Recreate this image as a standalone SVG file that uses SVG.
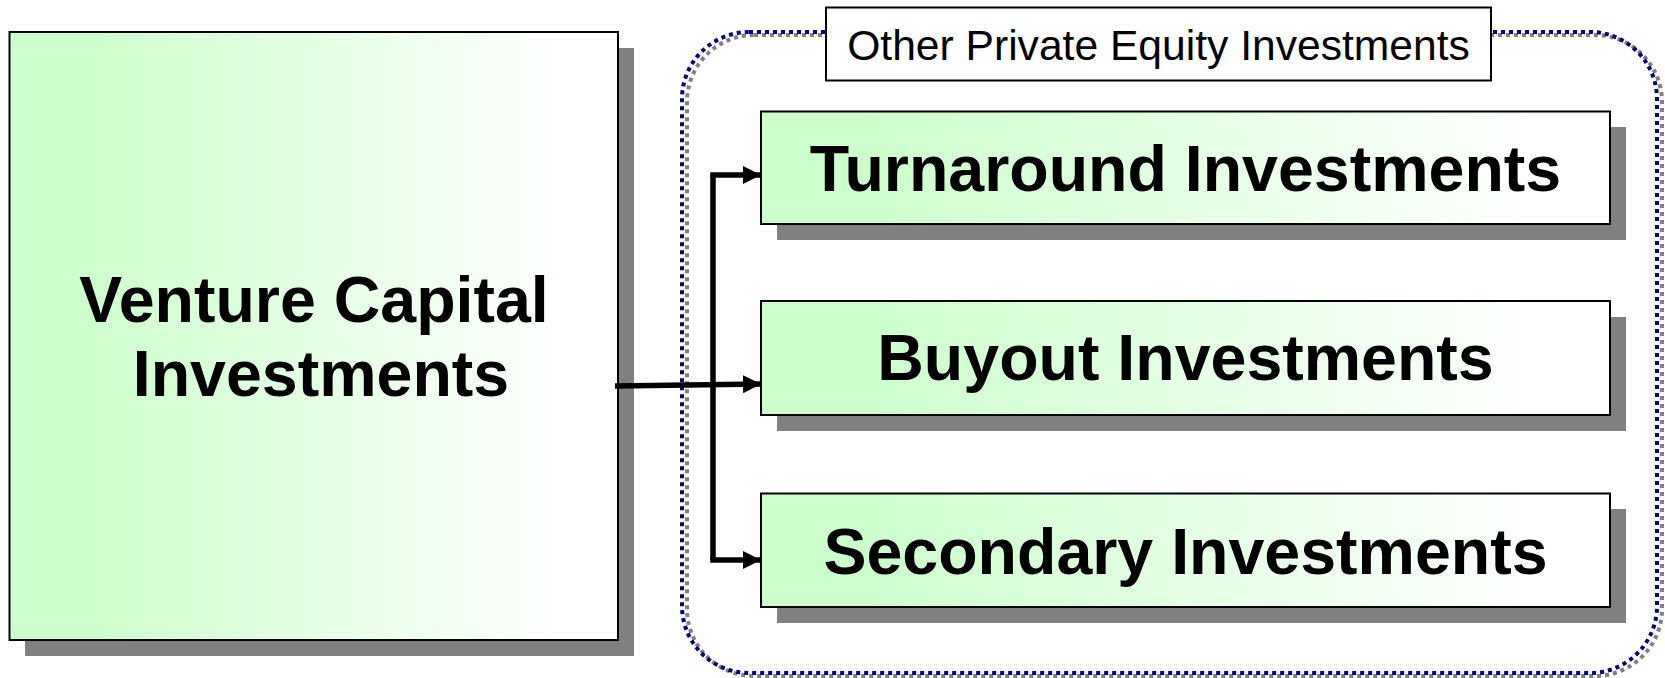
<svg xmlns="http://www.w3.org/2000/svg" width="1665" height="678" viewBox="0 0 1665 678">
<defs>
<linearGradient id="g" x1="0" y1="0" x2="1" y2="0">
<stop offset="0.12" stop-color="#ccffcc"/>
<stop offset="0.92" stop-color="#ffffff"/>
</linearGradient>
<marker id="ah" viewBox="0 0 18 18" refX="18" refY="9" markerWidth="18" markerHeight="18" markerUnits="userSpaceOnUse" orient="auto">
<path d="M0,0 L18,9 L0,18 Z" fill="#000"/>
</marker>
</defs>
<style>
.sh{fill:#808080}
.bx{fill:url(#g);stroke:#000;stroke-width:2}
.big{font-family:"Liberation Sans",Arial,sans-serif;font-weight:bold;font-size:64.5px;fill:#000;text-anchor:middle}
.lbl{font-family:"Liberation Sans",Arial,sans-serif;font-size:42.6px;fill:#000;text-anchor:middle}
.cn{fill:none;stroke:#000;stroke-width:5.5}
</style>
<g id="group-border">
<rect x="687" y="35" width="975" height="641" rx="67" ry="67" fill="none" stroke="#808080" stroke-width="4" stroke-dasharray="4 4"/>
<rect x="682" y="32" width="975" height="641" rx="67" ry="67" fill="none" stroke="#000080" stroke-width="4" stroke-dasharray="4 4"/>
</g>
<g id="node-vc">
<rect class="sh" x="25" y="48" width="609" height="608"/>
<rect class="bx" x="9.5" y="32" width="608.5" height="608"/>
<text class="big" x="314" y="322">Venture Capital</text>
<text class="big" x="321" y="396">Investments</text>
</g>
<g id="label-other">
<rect x="826" y="7.5" width="665" height="73" fill="#fff" stroke="#000" stroke-width="2"/>
<text class="lbl" x="1158.5" y="60">Other Private Equity Investments</text>
</g>
<g id="node-turnaround">
<rect class="sh" x="777" y="127" width="849" height="113"/>
<rect class="bx" x="761" y="111.5" width="849" height="112.5"/>
<text class="big" x="1185.5" y="191">Turnaround Investments</text>
</g>
<g id="node-buyout">
<rect class="sh" x="777" y="317" width="849" height="114"/>
<rect class="bx" x="761" y="301" width="849" height="114"/>
<text class="big" x="1185.5" y="380">Buyout Investments</text>
</g>
<g id="node-secondary">
<rect class="sh" x="777" y="509" width="849" height="114"/>
<rect class="bx" x="761" y="493.5" width="849" height="113.5"/>
<text class="big" x="1185.5" y="574">Secondary Investments</text>
</g>
<g id="connectors">
<path class="cn" d="M615,386 L761,384" marker-end="url(#ah)"/>
<path class="cn" d="M713,175 L713,560"/>
<path class="cn" d="M710.25,175 L761,175" marker-end="url(#ah)"/>
<path class="cn" d="M710.25,560 L761,560" marker-end="url(#ah)"/>
</g>
</svg>
